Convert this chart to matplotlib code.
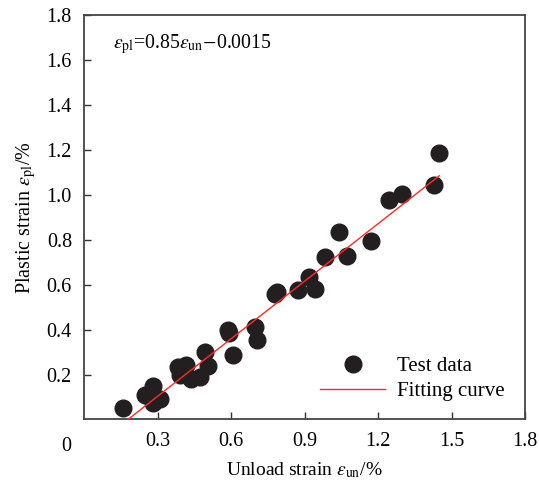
import matplotlib
matplotlib.use('Agg')
import matplotlib.pyplot as plt

# test data
unload = [0.159, 0.247, 0.281, 0.280, 0.308, 0.383, 0.417, 0.390, 0.437, 0.471,
          0.492, 0.505, 0.585, 0.590, 0.607, 0.695, 0.706, 0.780, 0.785, 0.872,
          0.917, 0.943, 0.981, 1.039, 1.073, 1.171, 1.243, 1.296, 1.429, 1.447]
plastic = [0.053, 0.109, 0.149, 0.075, 0.091, 0.232, 0.243, 0.198, 0.179, 0.190,
           0.302, 0.238, 0.400, 0.385, 0.287, 0.413, 0.354, 0.559, 0.570, 0.577,
           0.636, 0.580, 0.722, 0.837, 0.730, 0.797, 0.978, 1.004, 1.045, 1.186]

# fitted line end points
fit_x = [0.178, 1.45]
fit_y = [0.0, 1.086]

xticks = [0.3, 0.6, 0.9, 1.2, 1.5, 1.8]
yticks = [0.2, 0.4, 0.6, 0.8, 1.0, 1.2, 1.4, 1.6, 1.8]

plt.rcParams['font.family'] = ['Liberation Serif', 'DejaVu Serif']
plt.rcParams['mathtext.fontset'] = 'stix'

fig = plt.figure(figsize=(5.39, 4.84), dpi=100)
ax = fig.add_axes([0.1566, 0.1333, 0.8174, 0.8347])

ax.plot(unload, plastic, 'o', color='#231f20', markersize=12, label='Test data', zorder=3)
ax.plot(fit_x, fit_y, color='#ff2a2a', linewidth=1.0, label='Fitting curve', zorder=4)

ax.set_xlim(0, 1.8)
ax.set_ylim(0, 1.8)
ax.set_xticks(xticks)
ax.set_yticks(yticks)
ax.set_xticklabels(['%.1f' % v for v in xticks])
ax.set_yticklabels(['%.1f' % v for v in yticks])
ax.tick_params(direction='in', length=5, width=1, labelsize=14.5, color='#333333', pad=9)
ax.text(-0.042, -0.043, '0', transform=ax.transAxes, fontsize=14.5, ha='center', va='top')

for s in ax.spines.values():
    s.set_color('#444444')
    s.set_linewidth(1.3)

ax.set_xlabel(r'Unload strain $\varepsilon_{\rm un}$/%', fontsize=14, labelpad=7)
ax.set_ylabel(r'Plastic strain $\varepsilon_{\rm pl}$/%', fontsize=14.5, labelpad=6)

ax.text(0.065, 0.93, r'$\varepsilon_{\rm pl}$=0.85$\varepsilon_{\rm un}$$-$0.0015',
        transform=ax.transAxes, fontsize=14.2, va='center')

ax.legend(loc='lower right', frameon=False, fontsize=15, handlelength=3.1,
          handletextpad=0.6, bbox_to_anchor=(0.988, 0.01), borderaxespad=0.3,
          labelspacing=0.25)

fig.savefig('out.png', dpi=100)
